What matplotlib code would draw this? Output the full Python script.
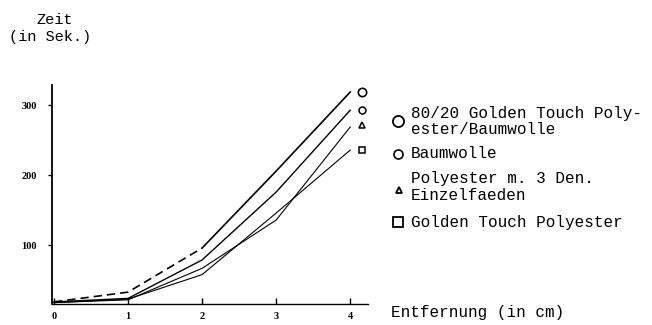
import matplotlib
matplotlib.use("Agg")
import matplotlib.pyplot as plt
from matplotlib.lines import Line2D

# ---- data ----
distance = [0, 1, 2, 3, 4]
x_ticks = [0, 1, 2, 3, 4]
y_ticks = [100, 200, 300]
blend_8020 = [19, 33, 96, 206, 319]      # 80/20 Golden Touch Polyester/Baumwolle
baumwolle = [19, 24, 79, 176, 293]       # Baumwolle
polyester_3den = [18, 22, 67, 136, 269]  # Polyester m. 3 Den. Einzelfaeden
golden_touch = [18, 23, 58, 146, 236]    # Golden Touch Polyester

legend_labels = [
    ["80/20 Golden Touch Poly-", "ester/Baumwolle"],
    ["Baumwolle"],
    ["Polyester m. 3 Den.", "Einzelfaeden"],
    ["Golden Touch Polyester"],
]

W, H = 652, 325
fig = plt.figure(figsize=(W / 100, H / 100), dpi=100)
ax = fig.add_axes([52 / W, 1 - 304 / H, (368 - 52) / W, (304 - 85) / H])

mono = "Liberation Mono"

def fx(px):
    return px / W

def fy(py):
    return 1 - py / H

# lines
ax.plot(distance[:3], blend_8020[:3], color="black", lw=1.2, ls=(0, (5, 3)))
ax.plot(distance[2:], blend_8020[2:], color="black", lw=1.2)
ax.plot(distance, baumwolle, color="black", lw=1.0)
ax.plot(distance, polyester_3den, color="black", lw=0.8)
ax.plot(distance, golden_touch, color="black", lw=0.8)

# end markers
xe = 4.16
ax.plot([xe], [blend_8020[-1]], marker="o", ms=6, mfc="white", mec="black", mew=1.2, clip_on=False)
ax.plot([xe], [baumwolle[-1]], marker="o", ms=5, mfc="white", mec="black", mew=1.1, clip_on=False)
ax.plot([xe], [polyester_3den[-1] + 3], marker="^", ms=4.5, mfc="white", mec="black", mew=1.1, clip_on=False)
ax.plot([xe], [golden_touch[-1]], marker="s", ms=4.5, mfc="white", mec="black", mew=1.1, clip_on=False)

ax.set_xlim(-0.027, 4.24)
ax.set_ylim(16, 329)
ax.set_xticks(x_ticks)
ax.set_yticks(y_ticks)
ax.set_xticklabels([str(v) for v in x_ticks], fontsize=7.5, fontweight="bold", family="Liberation Serif")
ax.set_yticklabels([str(v) for v in y_ticks], fontsize=7.5, fontweight="bold", family="Liberation Serif")
ax.tick_params(axis="x", direction="in", length=4, width=1, pad=6)
ax.tick_params(axis="y", direction="out", length=3, width=1, pad=8)
for s in ["top", "right"]:
    ax.spines[s].set_visible(False)
ax.spines["left"].set_linewidth(1.3)
ax.spines["bottom"].set_linewidth(1.0)

# axis titles
fig.text(fx(55), fy(20), "Zeit", family=mono, fontsize=11, ha="center", va="center")
fig.text(fx(50), fy(37), "(in Sek.)", family=mono, fontsize=11, ha="center", va="center")
fig.text(fx(391), fy(312), "Entfernung (in cm)", family=mono, fontsize=11.5, ha="left", va="center")

# legend
tx = fx(411)
fig.text(tx, fy(113), legend_labels[0][0], family=mono, fontsize=11.5, va="center")
fig.text(tx, fy(130), legend_labels[0][1], family=mono, fontsize=11.5, va="center")
fig.text(tx, fy(154), legend_labels[1][0], family=mono, fontsize=11.5, va="center")
fig.text(tx, fy(179), legend_labels[2][0], family=mono, fontsize=11.5, va="center")
fig.text(tx, fy(196), legend_labels[2][1], family=mono, fontsize=11.5, va="center")
fig.text(tx, fy(222), legend_labels[3][0], family=mono, fontsize=11.5, va="center")

fig.add_artist(Line2D([fx(398)], [fy(121)], transform=fig.transFigure, marker="o", ms=8,
                      mfc="white", mec="black", mew=1.3))
fig.add_artist(Line2D([fx(398)], [fy(154)], transform=fig.transFigure, marker="o", ms=6.5,
                      mfc="white", mec="black", mew=1.2))
fig.add_artist(Line2D([fx(399)], [fy(190)], transform=fig.transFigure, marker="^", ms=5,
                      mfc="white", mec="black", mew=1.3))
fig.add_artist(Line2D([fx(398)], [fy(222)], transform=fig.transFigure, marker="s", ms=7,
                      mfc="white", mec="black", mew=1.3))

fig.savefig("out.png", dpi=100)
